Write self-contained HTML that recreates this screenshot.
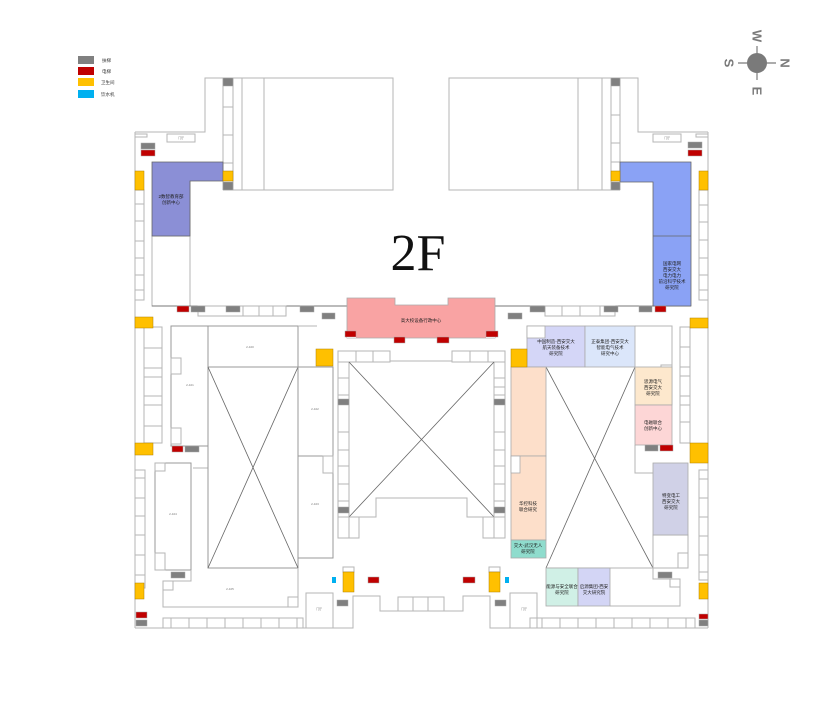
<!DOCTYPE html>
<html><head><meta charset="utf-8"><style>
html,body{margin:0;padding:0;background:#fff;}
svg{display:block;}
text{font-family:"Liberation Sans","Noto Sans CJK SC",sans-serif;}
</style></head><body>
<svg width="833" height="707" viewBox="0 0 833 707" xmlns="http://www.w3.org/2000/svg">
<rect width="833" height="707" fill="#fff"/>
<rect x="78" y="56" width="16" height="8" fill="#808080"/>
<rect x="78" y="67" width="16" height="8" fill="#c00000"/>
<rect x="78" y="78" width="16" height="8" fill="#ffc000"/>
<rect x="78" y="90" width="16" height="8" fill="#00b0f0"/>
<g font-size="4.5" fill="#333"><text x="102" y="62">扶梯</text><text x="102" y="73">电梯</text><text x="101" y="84">卫生间</text><text x="101" y="96">饮水机</text></g>
<g stroke="#7a7a7a">
<line x1="738" y1="63" x2="776" y2="63" stroke-width="1.2"/>
<line x1="757" y1="46" x2="757" y2="80" stroke-width="1.2"/>
<circle cx="757" cy="63" r="10" fill="#7a7a7a" stroke="none"/>
</g>
<g fill="#7a7a7a" font-size="13" font-weight="bold" text-anchor="middle">
<text transform="translate(757,36) rotate(90)" y="4.5">W</text>
<text transform="translate(785,63) rotate(90)" y="4.5">N</text>
<text transform="translate(757,91) rotate(90)" y="4.5">E</text>
<text transform="translate(729,63) rotate(90)" y="4.5">S</text>
</g>
<text x="418" y="270" font-family="Liberation Serif,serif" font-size="52" text-anchor="middle" fill="#111" style="font-family:'Liberation Serif',serif">2F</text>

<g fill="none" stroke="#b5b5b5" stroke-width="1">
<path d="M135 132 H205 V78 H393 V190 H223"/>
<line x1="223" y1="78" x2="223" y2="190"/><line x1="233" y1="78" x2="233" y2="190"/><line x1="242" y1="78" x2="242" y2="190"/><line x1="264" y1="78" x2="264" y2="190"/>
<line x1="223" y1="107" x2="233" y2="107"/><line x1="223" y1="135" x2="233" y2="135"/><line x1="223" y1="163" x2="233" y2="163"/>
<path d="M708 132 H638 V78 H449 V190 H620"/>
<line x1="578" y1="78" x2="578" y2="190"/><line x1="602" y1="78" x2="602" y2="190"/><line x1="611" y1="78" x2="611" y2="190"/><line x1="620" y1="78" x2="620" y2="190"/>
<line x1="611" y1="115" x2="620" y2="115"/><line x1="611" y1="143" x2="620" y2="143"/><line x1="611" y1="162" x2="620" y2="162"/>
<line x1="135" y1="132" x2="135" y2="628"/><line x1="708" y1="132" x2="708" y2="628"/>
<path d="M135 628 H353 V596 H380 V611 H463 V596 H490 V628 H708"/>
<rect x="167" y="134" width="28" height="8"/><rect x="653" y="134" width="28" height="8"/>
<rect x="135" y="134" width="12" height="3"/><rect x="696" y="134" width="12" height="3"/>
<rect x="135" y="190" width="9" height="110"/>
<line x1="135" y1="204" x2="144" y2="204"/><line x1="135" y1="221" x2="144" y2="221"/><line x1="135" y1="241" x2="144" y2="241"/><line x1="135" y1="258" x2="144" y2="258"/><line x1="135" y1="275" x2="144" y2="275"/><line x1="135" y1="290" x2="144" y2="290"/>
<rect x="699" y="190" width="9" height="110"/>
<line x1="699" y1="205" x2="708" y2="205"/><line x1="699" y1="222" x2="708" y2="222"/><line x1="699" y1="240" x2="708" y2="240"/><line x1="699" y1="258" x2="708" y2="258"/><line x1="699" y1="275" x2="708" y2="275"/><line x1="699" y1="290" x2="708" y2="290"/>
<rect x="152" y="236" width="38" height="70"/>
<line x1="190" y1="181" x2="190" y2="306"/>
<line x1="152" y1="306" x2="347" y2="306" stroke="#777"/>
<line x1="495" y1="306" x2="691" y2="306" stroke="#777"/>
<rect x="198" y="306" width="88" height="10"/><line x1="243" y1="306" x2="243" y2="316"/><line x1="259" y1="306" x2="259" y2="316"/><line x1="273" y1="306" x2="273" y2="316"/>
<rect x="240" y="306" width="0" height="0"/>
<rect x="545" y="306" width="70" height="10"/><line x1="562" y1="306" x2="562" y2="316"/><line x1="580" y1="306" x2="580" y2="316"/><line x1="600" y1="306" x2="600" y2="316"/>

<rect x="144" y="327" width="18" height="116"/>
<line x1="144" y1="348" x2="162" y2="348"/><line x1="144" y1="368" x2="162" y2="368"/><line x1="144" y1="377" x2="162" y2="377"/><line x1="144" y1="396" x2="162" y2="396"/><line x1="144" y1="405" x2="162" y2="405"/><line x1="144" y1="426" x2="162" y2="426"/>
<rect x="171" y="326" width="37" height="120" stroke="#999"/>
<rect x="171" y="358" width="10" height="16"/><rect x="171" y="428" width="10" height="16"/>
<path d="M208 446 V468 H193"/>
<rect x="208" y="326" width="90" height="41" stroke="#999"/>
<line x1="298" y1="326" x2="317" y2="326"/>
<rect x="208" y="367" width="90" height="201" stroke="#999"/>
<line x1="208" y1="367" x2="298" y2="568" stroke="#666" stroke-width="0.8"/>
<line x1="298" y1="367" x2="208" y2="568" stroke="#666" stroke-width="0.8"/>
<rect x="298" y="367" width="35" height="89" stroke="#999"/>
<rect x="298" y="456" width="35" height="102" stroke="#999"/>
<rect x="323" y="456" width="10" height="17"/>
<rect x="155" y="463" width="36" height="107" stroke="#999"/>
<rect x="155" y="463" width="10" height="8"/><rect x="155" y="553" width="10" height="17"/>
<path d="M191 570 V581 H163 V607 H298 V568"/>
<rect x="163" y="581" width="10" height="9"/><rect x="288" y="597" width="10" height="10"/>
<rect x="135" y="470" width="10" height="118"/>
<line x1="135" y1="478" x2="145" y2="478"/><line x1="135" y1="498" x2="145" y2="498"/><line x1="135" y1="516" x2="145" y2="516"/><line x1="135" y1="535" x2="145" y2="535"/><line x1="135" y1="555" x2="145" y2="555"/><line x1="135" y1="575" x2="145" y2="575"/>
<rect x="163" y="618" width="140" height="10"/>
<line x1="171" y1="618" x2="171" y2="628"/><line x1="189" y1="618" x2="189" y2="628"/><line x1="207" y1="618" x2="207" y2="628"/><line x1="225" y1="618" x2="225" y2="628"/><line x1="243" y1="618" x2="243" y2="628"/><line x1="261" y1="618" x2="261" y2="628"/><line x1="279" y1="618" x2="279" y2="628"/><line x1="297" y1="618" x2="297" y2="628"/>
<rect x="306" y="593" width="27" height="35"/>

<rect x="338" y="351" width="52" height="11"/><line x1="356" y1="351" x2="356" y2="362"/><line x1="373" y1="351" x2="373" y2="362"/>
<rect x="452" y="351" width="53" height="11"/><line x1="470" y1="351" x2="470" y2="362"/><line x1="488" y1="351" x2="488" y2="362"/>
<line x1="390" y1="361" x2="452" y2="361"/>
<rect x="338" y="362" width="11" height="176"/>
<line x1="338" y1="378" x2="349" y2="378"/><line x1="338" y1="395" x2="349" y2="395"/><line x1="338" y1="432" x2="349" y2="432"/><line x1="338" y1="450" x2="349" y2="450"/><line x1="338" y1="466" x2="349" y2="466"/><line x1="338" y1="484" x2="349" y2="484"/><line x1="338" y1="501" x2="349" y2="501"/><line x1="338" y1="517" x2="349" y2="517"/>
<rect x="494" y="362" width="11" height="176"/>
<line x1="494" y1="378" x2="505" y2="378"/><line x1="494" y1="387" x2="505" y2="387"/><line x1="494" y1="395" x2="505" y2="395"/><line x1="494" y1="432" x2="505" y2="432"/><line x1="494" y1="450" x2="505" y2="450"/><line x1="494" y1="466" x2="505" y2="466"/><line x1="494" y1="484" x2="505" y2="484"/><line x1="494" y1="501" x2="505" y2="501"/><line x1="494" y1="517" x2="505" y2="517"/>
<path d="M349 517 H376 V498 H467 V517 H494"/>
<line x1="349" y1="362" x2="494" y2="517" stroke="#666" stroke-width="0.8"/>
<line x1="494" y1="362" x2="349" y2="517" stroke="#666" stroke-width="0.8"/>
<rect x="338" y="517" width="21" height="21"/><rect x="483" y="517" width="22" height="21"/>
<rect x="343" y="567" width="11" height="5"/><rect x="489" y="567" width="11" height="5"/>
<rect x="398" y="597" width="46" height="14"/><line x1="413" y1="597" x2="413" y2="611"/><line x1="428" y1="597" x2="428" y2="611"/>
<rect x="510" y="593" width="27" height="35"/>

<path d="M635 326 H672 V405"/>
<rect x="661" y="365" width="11" height="7"/>
<path d="M635 445 V473 H653"/>
<rect x="680" y="327" width="10" height="116"/>
<line x1="680" y1="347" x2="690" y2="347"/><line x1="680" y1="367" x2="690" y2="367"/><line x1="680" y1="376" x2="690" y2="376"/><line x1="680" y1="396" x2="690" y2="396"/><line x1="680" y1="405" x2="690" y2="405"/><line x1="680" y1="422" x2="690" y2="422"/>
<line x1="546" y1="367" x2="653" y2="568" stroke="#666" stroke-width="0.8"/>
<line x1="635" y1="367" x2="546" y2="568" stroke="#666" stroke-width="0.8"/>
<line x1="546" y1="568" x2="688" y2="568"/>
<rect x="653" y="535" width="35" height="33"/><rect x="678" y="553" width="10" height="15"/>
<rect x="699" y="470" width="9" height="110"/>
<line x1="699" y1="479" x2="708" y2="479"/><line x1="699" y1="498" x2="708" y2="498"/><line x1="699" y1="517" x2="708" y2="517"/><line x1="699" y1="536" x2="708" y2="536"/><line x1="699" y1="555" x2="708" y2="555"/><line x1="699" y1="572" x2="708" y2="572"/>
<path d="M653 568 V579 H680 V606 H610"/>
<rect x="670" y="579" width="10" height="8"/>
<rect x="530" y="618" width="165" height="10"/>
<line x1="542" y1="618" x2="542" y2="628"/><line x1="560" y1="618" x2="560" y2="628"/><line x1="578" y1="618" x2="578" y2="628"/><line x1="596" y1="618" x2="596" y2="628"/><line x1="614" y1="618" x2="614" y2="628"/><line x1="632" y1="618" x2="632" y2="628"/><line x1="650" y1="618" x2="650" y2="628"/><line x1="668" y1="618" x2="668" y2="628"/><line x1="686" y1="618" x2="686" y2="628"/>
</g>

<g stroke="#666" stroke-width="0.8">
<path d="M152 162 H223 V181 H190 V236 H152 Z" fill="#8b8fd6"/>
<path d="M620 162 H691 V306 H653 V182 H620 Z" fill="#8aa2f5"/>
<line x1="653" y1="236" x2="691" y2="236"/>
</g>
<g stroke="#aaa" stroke-width="0.8">
<path d="M347 298 H395 V305 H448 V298 H495 V338 H347 Z" fill="#f9a3a3"/>
<rect x="527" y="326" width="58" height="41" fill="#d4d6f7"/>
<rect x="527" y="326" width="18" height="12" fill="#fff"/>
<rect x="585" y="326" width="50" height="41" fill="#dbe6fa"/>
<rect x="635" y="367" width="37" height="38" fill="#fde8cd"/>
<rect x="635" y="405" width="37" height="40" fill="#fdd6d6"/>
<rect x="653" y="463" width="35" height="72" fill="#d0d1e7"/>
<rect x="511" y="367" width="35" height="89" fill="#fddfca"/>
<rect x="511" y="456" width="35" height="84" fill="#fddfca"/>
<rect x="511" y="456" width="9" height="17" fill="#fff"/>
<rect x="511" y="540" width="35" height="18" fill="#8fdccd"/>
<rect x="546" y="568" width="32" height="38" fill="#d0f0e6"/>
<rect x="578" y="568" width="32" height="38" fill="#d3d5f5"/>
</g>
<rect x="347" y="331" width="9" height="7" fill="#fff"/><rect x="486" y="331" width="9" height="7" fill="#fff"/>

<g fill="#ffc000" stroke="#b08000" stroke-width="0.5">
<rect x="135" y="171" width="9" height="19"/><rect x="699" y="171" width="9" height="19"/>
<rect x="223" y="171" width="10" height="10"/><rect x="611" y="171" width="9" height="10"/>
<rect x="135" y="317" width="18" height="11"/><rect x="690" y="318" width="18" height="10"/>
<rect x="135" y="443" width="18" height="12"/><rect x="690" y="443" width="18" height="20"/>
<rect x="316" y="349" width="17" height="17"/><rect x="511" y="349" width="16" height="18"/>
<rect x="135" y="583" width="9" height="16"/><rect x="699" y="583" width="9" height="16"/>
<rect x="343" y="572" width="11" height="20"/><rect x="489" y="572" width="11" height="20"/>
</g>
<rect x="332" y="577" width="4" height="6" fill="#00b0f0"/>
<rect x="505" y="577" width="4" height="6" fill="#00b0f0"/>

<g fill="#808080" stroke="#aaa" stroke-width="0.5">
<rect x="223" y="78" width="10" height="8"/><rect x="223" y="182" width="10" height="8"/>
<rect x="611" y="78" width="9" height="8"/><rect x="611" y="182" width="9" height="8"/>
<rect x="141" y="143" width="14" height="6"/><rect x="688" y="142" width="14" height="6"/>
<rect x="191" y="306" width="14" height="6"/><rect x="286" y="306" width="0" height="0"/>
<rect x="226" y="306" width="0" height="0"/>
<rect x="226" y="306" width="0" height="0"/>
<rect x="226" y="306" width="14" height="6"/>
<rect x="300" y="306" width="14" height="6"/>
<rect x="322" y="313" width="13" height="6"/>
<rect x="508" y="313" width="14" height="6"/>
<rect x="530" y="306" width="15" height="6"/>
<rect x="604" y="306" width="14" height="6"/>
<rect x="639" y="306" width="13" height="6"/>
<rect x="185" y="446" width="14" height="6"/>
<rect x="338" y="399" width="11" height="6"/><rect x="338" y="507" width="11" height="6"/>
<rect x="494" y="399" width="11" height="6"/><rect x="494" y="507" width="11" height="6"/>
<rect x="171" y="572" width="14" height="6"/>
<rect x="136" y="620" width="11" height="6"/>
<rect x="337" y="600" width="11" height="6"/><rect x="495" y="600" width="11" height="6"/>
<rect x="645" y="445" width="13" height="6"/>
<rect x="658" y="572" width="14" height="6"/>
<rect x="699" y="620" width="9" height="6"/>
</g>
<g fill="#c00000" stroke="#aaa" stroke-width="0.5">
<rect x="141" y="150" width="14" height="6"/><rect x="688" y="150" width="14" height="6"/>
<rect x="177" y="306" width="12" height="6"/>
<rect x="655" y="306" width="11" height="6"/>
<rect x="345" y="331" width="11" height="6"/><rect x="486" y="331" width="12" height="6"/>
<rect x="394" y="337" width="11" height="6"/><rect x="437" y="337" width="12" height="6"/>
<rect x="172" y="446" width="11" height="6"/>
<rect x="660" y="445" width="13" height="6"/>
<rect x="368" y="577" width="11" height="6"/><rect x="463" y="577" width="12" height="6"/>
<rect x="136" y="612" width="11" height="6"/>
<rect x="699" y="614" width="9" height="5"/>
</g>

<g font-size="4.5" fill="#222" text-anchor="middle">
<text x="171" y="198">2数智教育部</text><text x="171" y="204">创新中心</text>
<text x="672" y="265">国家电网</text><text x="672" y="271">西安交大</text><text x="672" y="277">电力电力</text><text x="672" y="283">前沿科学技术</text><text x="672" y="289">研究院</text>
<text x="421" y="322">高大校设备行政中心</text>
<text x="556" y="343">中国制造-西安交大</text><text x="556" y="349">航天装备技术</text><text x="556" y="355">研究院</text>
<text x="610" y="343">正泰集团-西安交大</text><text x="610" y="349">智能电气技术</text><text x="610" y="355">研究中心</text>
<text x="653" y="383">思源电气</text><text x="653" y="389">西安交大</text><text x="653" y="395">研究院</text>
<text x="653" y="424">电磁联合</text><text x="653" y="430">创新中心</text>
<text x="671" y="497">特变电工</text><text x="671" y="503">西安交大</text><text x="671" y="509">研究院</text>
<text x="528" y="505">华控科技</text><text x="528" y="511">联合研究</text>
<text x="528" y="547">交大-武汉无人</text><text x="528" y="553">研究院</text>
<text x="562" y="588">能源与安全联合</text><text x="562" y="594">研究院</text>
<text x="594" y="588">启源集团-西安</text><text x="594" y="594">交大研究院</text>
</g>
<g font-size="3" fill="#777" text-anchor="middle">
<text x="181" y="139">门厅</text><text x="667" y="139">门厅</text>
<text x="250" y="348">2-100</text><text x="190" y="386">2-101</text><text x="315" y="410">2-102</text><text x="315" y="505">2-103</text><text x="173" y="515">2-104</text><text x="230" y="590">2-105</text>
<text x="319" y="610">门厅</text><text x="524" y="610">门厅</text>
</g>
</svg>
</body></html>
